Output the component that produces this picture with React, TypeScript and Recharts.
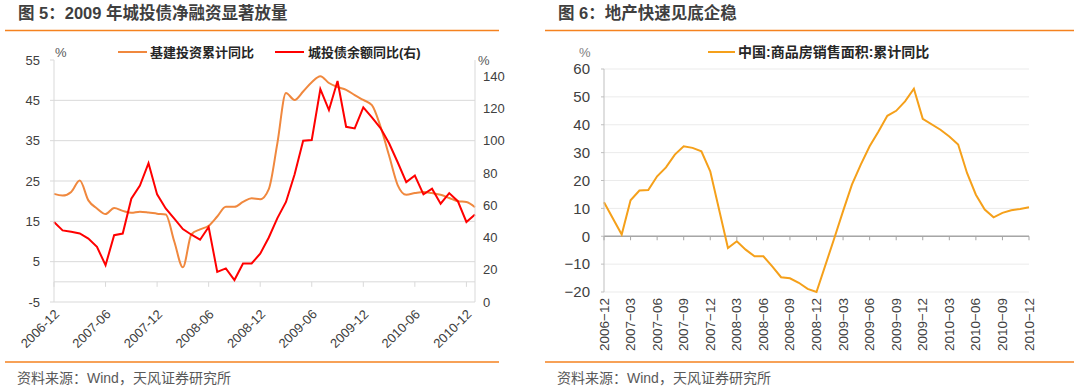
import { LineChart, Line, XAxis, YAxis, CartesianGrid, ReferenceLine } from 'recharts';

// 图5: monthly, 2006-12 .. 2011-01
const bondMonths = [
  '2006-12',
  '2007-01', '2007-02', '2007-03', '2007-04', '2007-05', '2007-06', '2007-07', '2007-08', '2007-09', '2007-10', '2007-11', '2007-12',
  '2008-01', '2008-02', '2008-03', '2008-04', '2008-05', '2008-06', '2008-07', '2008-08', '2008-09', '2008-10', '2008-11', '2008-12',
  '2009-01', '2009-02', '2009-03', '2009-04', '2009-05', '2009-06', '2009-07', '2009-08', '2009-09', '2009-10', '2009-11', '2009-12',
  '2010-01', '2010-02', '2010-03', '2010-04', '2010-05', '2010-06', '2010-07', '2010-08', '2010-09', '2010-10', '2010-11', '2010-12',
  '2011-01',
];
// 基建投资累计同比 (left axis, %)
const infraYoY = [
  21.8,
  21.4, 22.3, 25.1, 20.2, 18.2, 16.8, 18.3, 17.6, 17.1, 17.4, 17.2, 16.9,
  16.7, 10.0, 3.6, 11.8, 13.0, 13.9, 16.2, 18.6, 18.6, 19.8, 20.7, 20.5,
  23.0, 34.4, 46.8, 45.1, 47.2, 49.5, 51.0, 49.3, 48.3, 47.6, 46.3, 45.1,
  43.8, 38.5, 31.3, 24.0, 21.6, 22.0, 22.3, 22.0, 21.6, 20.8, 20.0, 19.8,
  18.5,
];
// 城投债余额同比 (right axis, %)
const bondYoY = [
  49.6,
  44.4, 43.5, 42.5, 39.3, 34.2, 22.8, 41.4, 42.4, 64.0, 72.2, 86.0, 66.7,
  58.0, 51.7, 45.2, 41.7, 38.6, 46.5, 18.7, 20.8, 13.6, 23.9, 23.9, 30.0,
  40.0, 52.0, 62.0, 79.0, 100.0, 100.4, 132.0, 119.0, 137.0, 108.6, 107.6, 120.6,
  114.4, 107.8, 98.4, 86.6, 74.3, 78.4, 66.7, 70.2, 60.9, 67.5, 62.5, 49.6,
  54.3,
];
const bondLeftTicks = [-5, 5, 15, 25, 35, 45, 55];
const bondRightTicks = [0, 20, 40, 60, 80, 100, 120, 140];

// 图6: monthly, 2006-12 .. 2010-12 (January has no value)
const salesMonths = [
  '2006-12',
  '2007-01', '2007-02', '2007-03', '2007-04', '2007-05', '2007-06', '2007-07', '2007-08', '2007-09', '2007-10', '2007-11', '2007-12',
  '2008-01', '2008-02', '2008-03', '2008-04', '2008-05', '2008-06', '2008-07', '2008-08', '2008-09', '2008-10', '2008-11', '2008-12',
  '2009-01', '2009-02', '2009-03', '2009-04', '2009-05', '2009-06', '2009-07', '2009-08', '2009-09', '2009-10', '2009-11', '2009-12',
  '2010-01', '2010-02', '2010-03', '2010-04', '2010-05', '2010-06', '2010-07', '2010-08', '2010-09', '2010-10', '2010-11', '2010-12',
];
// 中国:商品房销售面积:累计同比
const salesYoY = [
  12.2,
  null, 0.6, 12.9, 16.4, 16.6, 21.5, 24.7, 29.3, 32.3, 31.7, 30.5, 23.3,
  null, -4.2, -1.8, -4.8, -7.2, -7.2, -10.8, -14.7, -15.1, -16.7, -18.9, -20.0,
  null, -0.8, 9.0, 18.5, 25.7, 32.3, 37.6, 43.2, 45.0, 48.4, 52.9, 42.1,
  null, 38.2, 35.8, 32.9, 22.7, 14.9, 9.6, 6.8, 8.4, 9.3, 9.8, 10.4,
];
const salesTicks = [-20, -10, 0, 10, 20, 30, 40, 50, 60];

const bondData = bondMonths.map((m, i) => ({ month: m, infra: infraYoY[i], bond: bondYoY[i] }));
const salesData = salesMonths.map((m, i) => ({ month: m, sales: salesYoY[i] }));

const FONT = '"Liberation Sans", Arial, "Noto Sans CJK SC", sans-serif';
const ORANGE_RULE = '#F5821F';
const AXIS_TEXT = '#404040';

// plot heights, used to place the small ticks on the zero line
const BOND_PLOT_H = 242;
const BOND_ZERO_GAP = (BOND_PLOT_H * 5) / 60;
const SALES_PLOT_H = 223;
const SALES_ZERO_GAP = (SALES_PLOT_H * 20) / 80;

const BondTick = (props: any) => {
  const { x, y, payload } = props;
  const zy = y - BOND_ZERO_GAP;
  const tx = x + 6;
  const ty = y + 13;
  return (
    <g>
      <line x1={x} x2={x} y1={zy} y2={zy + 5} stroke="#d9d9d9" />
      <text x={tx} y={ty} textAnchor="end" fontSize={13} fill={AXIS_TEXT} fontFamily={FONT}
        transform={`rotate(-45 ${tx} ${ty})`}>
        {payload.value}
      </text>
    </g>
  );
};

const SalesTick = (props: any) => {
  const { x, y, payload } = props;
  const zy = y - SALES_ZERO_GAP;
  const ty = y + 6;
  return (
    <g>
      <line x1={x} x2={x} y1={zy} y2={zy + 4} stroke="#a6a6a6" />
      <text x={x} y={ty} textAnchor="end" dominantBaseline="central" fontSize={13.5} fill={AXIS_TEXT} fontFamily={FONT}
        transform={`rotate(-90 ${x} ${ty})`}>
        {String(payload.value).replace('-', '−')}
      </text>
    </g>
  );
};

const minus = (v: number) => String(v).replace('-', '−');

const App = () => {
  return (
    <div style={{ position: 'absolute', left: 0, top: 0, width: 1080, height: 392, background: '#fff', fontFamily: FONT }}>
      {/* 图5 */}
      <div style={{ position: 'absolute', left: 0, top: 0 }}>
        <LineChart width={540} height={392} data={bondData} margin={{ top: 60, right: 25, bottom: 30, left: 14 }}>
          <CartesianGrid yAxisId="left" vertical={false} stroke="#d9d9d9" horizontalValues={[-5, 5, 15, 25, 35, 45]} />
          <XAxis dataKey="month" interval={5} height={60} tickSize={0} tickMargin={0} tickLine={false} axisLine={false} tick={<BondTick />} />
          <YAxis yAxisId="left" width={40} domain={[-5, 55]} ticks={bondLeftTicks} interval={0}
            tick={{ fontSize: 13, fill: AXIS_TEXT, fontFamily: FONT }} tickSize={4} tickMargin={10}
            tickLine={{ stroke: '#d9d9d9' }} axisLine={{ stroke: '#d9d9d9' }} />
          <YAxis yAxisId="right" orientation="right" width={40} domain={[0, 150]} ticks={bondRightTicks} interval={0}
            tick={{ fontSize: 13, fill: AXIS_TEXT, fontFamily: FONT }} tickLine={false} axisLine={{ stroke: '#d9d9d9' }} />
          <ReferenceLine yAxisId="left" y={0} stroke="#d9d9d9" />
          <Line yAxisId="left" dataKey="infra" type="monotone" stroke="#F0883E" strokeWidth={2} dot={false} isAnimationActive={false} />
          <Line yAxisId="right" dataKey="bond" type="linear" stroke="#FF0000" strokeWidth={2} dot={false} isAnimationActive={false} />
        </LineChart>
      </div>

      {/* 图6 */}
      <div style={{ position: 'absolute', left: 540, top: 0 }}>
        <LineChart width={540} height={392} data={salesData} margin={{ top: 69, right: 51, bottom: 40, left: 20 }}>
          <CartesianGrid vertical={false} stroke="#ebebeb" />
          <XAxis dataKey="month" interval={2} height={60} tickSize={0} tickMargin={0} tickLine={false} axisLine={false} tick={<SalesTick />} />
          <YAxis width={44} domain={[-20, 60]} ticks={salesTicks} interval={0} tickFormatter={minus}
            tick={{ fontSize: 15, fill: AXIS_TEXT, fontFamily: FONT }} tickSize={3} tickMargin={11}
            tickLine={{ stroke: '#bfbfbf' }} axisLine={{ stroke: '#bfbfbf' }} />
          <ReferenceLine y={0} stroke="#a6a6a6" strokeWidth={1.5} />
          <Line dataKey="sales" type="linear" stroke="#F5A01A" strokeWidth={2} dot={false} connectNulls isAnimationActive={false} />
        </LineChart>
      </div>

      {/* titles, rules, legends, footers */}
      <svg width={1080} height={392} style={{ position: 'absolute', left: 0, top: 0, pointerEvents: 'none' }}>
        <g fontFamily={FONT}>
          <text x={18} y={19} fontSize={16.5} fontWeight={700} fill="#3f3f3f">图 5：2009 年城投债净融资显著放量</text>
          <text x={558} y={19} fontSize={16.5} fontWeight={700} fill="#3f3f3f">图 6：地产快速见底企稳</text>
          <line x1={5} x2={499} y1={30.5} y2={30.5} stroke={ORANGE_RULE} strokeWidth={1.5} />
          <line x1={545} x2={1074} y1={30.5} y2={30.5} stroke={ORANGE_RULE} strokeWidth={1.5} />
          <line x1={5} x2={499} y1={362} y2={362} stroke={ORANGE_RULE} strokeWidth={1.5} />
          <line x1={545} x2={1074} y1={362} y2={362} stroke={ORANGE_RULE} strokeWidth={1.5} />
          <text x={17} y={383} fontSize={14} fill="#595959">资料来源：Wind，天风证券研究所</text>
          <text x={557} y={383} fontSize={14} fill="#595959">资料来源：Wind，天风证券研究所</text>

          <text x={55} y={57} fontSize={13} fill="#595959">%</text>
          <text x={478} y={65} fontSize={13} fill="#595959">%</text>
          <text x={579} y={57} fontSize={13} fill="#808080">%</text>

          <line x1={118} x2={147} y1={52} y2={52} stroke="#F0883E" strokeWidth={2} />
          <text x={150} y={56.5} fontSize={13} fontWeight={700} fill="#262626">基建投资累计同比</text>
          <line x1={275} x2={304} y1={52} y2={52} stroke="#FF0000" strokeWidth={2} />
          <text x={308} y={56.5} fontSize={13} fontWeight={700} fill="#262626">城投债余额同比(右)</text>

          <line x1={708} x2={735} y1={52} y2={52} stroke="#F5A01A" strokeWidth={2} />
          <text x={738} y={57} fontSize={14} fontWeight={700} fill="#262626">中国:商品房销售面积:累计同比</text>
        </g>
      </svg>
    </div>
  );
};

export default App;
